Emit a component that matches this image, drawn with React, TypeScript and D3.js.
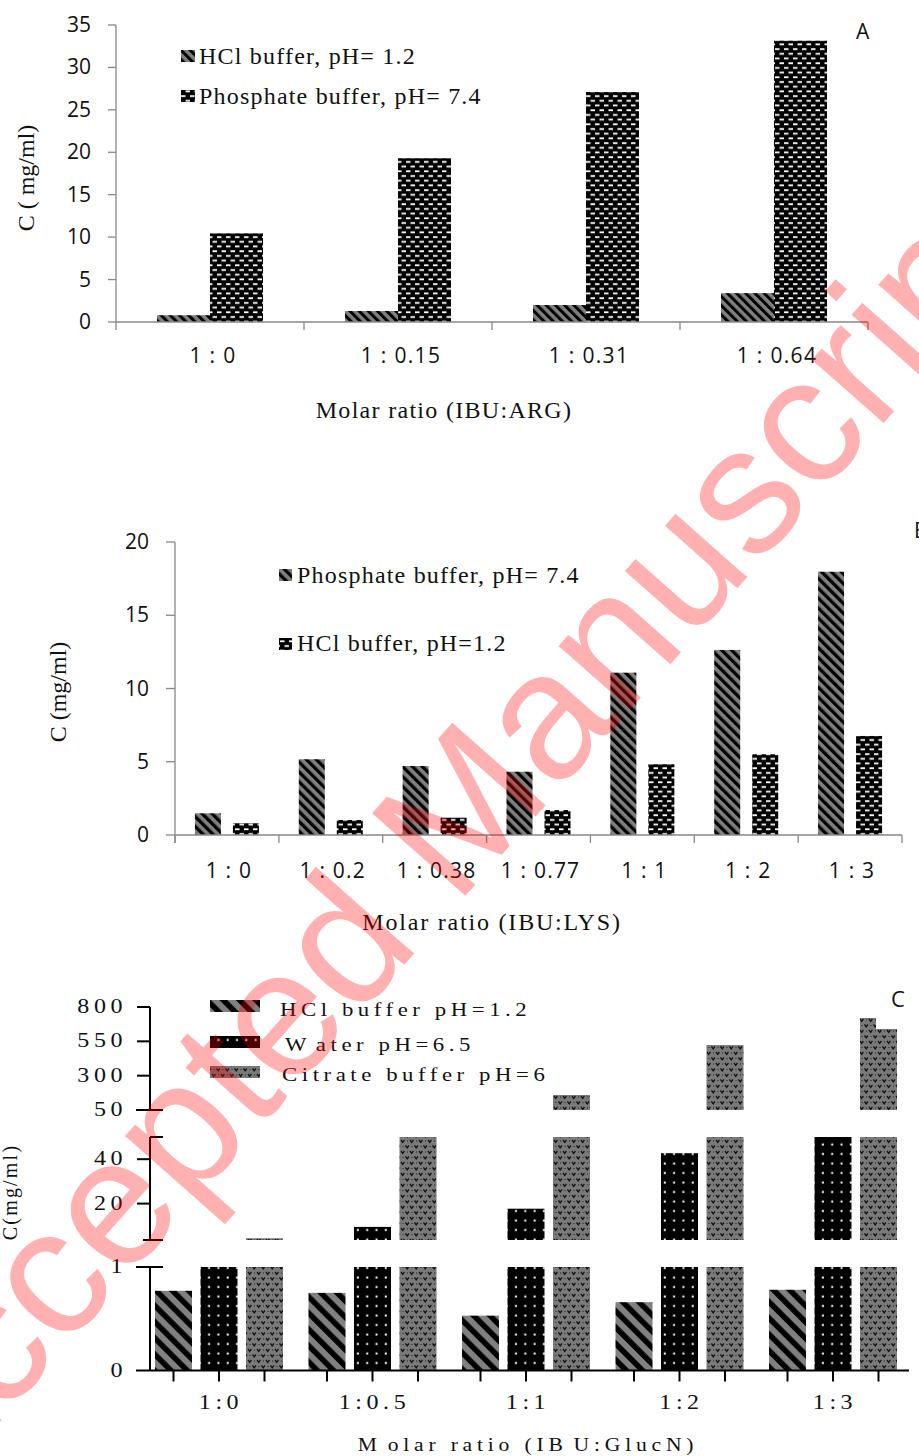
import React from 'react';
import * as d3 from 'd3';

// ---------- Panel A data ----------
const catsA = ['1 : 0', '1 : 0.15', '1 : 0.31', '1 : 0.64'];
const hclA = [0.8, 1.3, 2.0, 3.4];
const phosA = [10.45, 19.3, 27.1, 33.15];
const ticksA = [0, 5, 10, 15, 20, 25, 30, 35];

// ---------- Panel B data ----------
const catsB = ['1 : 0', '1 : 0.2', '1 : 0.38', '1 : 0.77', '1 : 1', '1 : 2', '1 : 3'];
const phosB = [1.48, 5.17, 4.71, 4.32, 11.08, 12.63, 17.97];
const hclB = [0.8, 1.02, 1.18, 1.7, 4.83, 5.51, 6.76];
const ticksB = [0, 5, 10, 15, 20];

// ---------- Panel C data ----------
const catsC = ['1:0', '1:0.5', '1:1', '1:2', '1:3'];
const seriesC = ['hcl', 'water', 'citrate'];
const hclC = [0.77, 0.75, 0.53, 0.66, 0.78];
const waterC = [2.5, 9.5, 17.7, 42.7, 50];
const citrateC = [4.4, 50, 159, 523, 640];
const citrateStepC = [null, null, null, null, 720];
const ticksCBottom = [0, 1];
const ticksCMid = [20, 40];
const ticksCTop = [50, 300, 550, 800];

const SERIF = '"Liberation Serif", "Times New Roman", serif';
const SANS = '"Open Sans", "Liberation Sans", sans-serif';
const GREY = '#808080';
const AXG = '#888888';

function T(p: any) {
  const { x, y, anchor = 'start', size = 16, family = SERIF, sx = 1, ls = 0, rotate = 0, fill = '#111', children } = p;
  return (
    <text
      transform={`translate(${x},${y}) rotate(${rotate}) scale(${sx},1)`}
      textAnchor={anchor}
      fontFamily={family}
      fontSize={size}
      letterSpacing={ls}
      fill={fill}
    >
      {children}
    </text>
  );
}

export default function App() {
  // Panel A scales
  const xA = d3.scaleBand<string>().domain(catsA).range([116, 868]);
  const yA = d3.scaleLinear().domain([0, 35]).range([322, 25]);
  const bwA = 53;

  // Panel B scales
  const xB = d3.scaleBand<string>().domain(catsB).range([175, 902]);
  const yB = d3.scaleLinear().domain([0, 20]).range([835, 542]);
  const bwB = 26;

  // Panel C scales
  const xC = d3.scaleBand<string>().domain(catsC).range([142.25, 909.75]);
  const xCi = d3.scalePoint<string>().domain(seriesC).range([-45.5, 45.5]);
  const bwC = 37;
  const segs = [
    { lo: 0, hi: 1, s: d3.scaleLinear().domain([0, 1]).range([1370.5, 1267]) },
    { lo: 3.6, hi: 50, s: d3.scaleLinear().domain([3.6, 50]).range([1240, 1137]) },
    { lo: 50, hi: 800, s: d3.scaleLinear().domain([50, 800]).range([1110, 1007]) },
  ];
  const valsC: Record<string, number[]> = { hcl: hclC, water: waterC, citrate: citrateC };
  const fillC: Record<string, string> = { hcl: 'url(#hatchC)', water: 'url(#dotsC)', citrate: 'url(#citC)' };

  const segRects = (cx: number, w: number, v: number, fill: string, key: string) =>
    segs.map((sg, i) => {
      if (v <= sg.lo) return null;
      const top = sg.s(Math.min(v, sg.hi));
      const bot = sg.s(sg.lo);
      return <rect key={key + i} x={cx - w / 2} y={top} width={w} height={bot - top} fill={fill} />;
    });

  const cSeg0 = segs[0].s, cSeg1 = segs[1].s, cSeg2 = segs[2].s;

  return (
    <svg width={919} height={1456} style={{ position: 'absolute', left: 0, top: 0, background: '#fff' }}>
      <defs>
        <pattern id="hatchA" width="6.5" height="6.5" patternUnits="userSpaceOnUse" patternTransform="rotate(-45)">
          <rect width="6.5" height="6.5" fill={GREY} />
          <rect width="3" height="6.5" fill="#000" />
        </pattern>
        <pattern id="hatchB" width="7" height="7" patternUnits="userSpaceOnUse" patternTransform="rotate(-45)">
          <rect width="7" height="7" fill={GREY} />
          <rect width="3.3" height="7" fill="#000" />
        </pattern>
        <pattern id="hatchC" width="11.5" height="11.5" patternUnits="userSpaceOnUse" patternTransform="rotate(-45)">
          <rect width="11.5" height="11.5" fill={GREY} />
          <rect width="5.5" height="11.5" fill="#000" />
        </pattern>
        <pattern id="dash" width="9" height="9.4" patternUnits="userSpaceOnUse">
          <rect width="9" height="9.4" fill="#000" />
          <rect x="1" y="1.2" width="4.5" height="1.8" fill="#fff" />
          <rect x="5.5" y="5.9" width="4.5" height="1.8" fill="#fff" />
          <rect x="-3.5" y="5.9" width="4.5" height="1.8" fill="#fff" />
        </pattern>
        <pattern id="dotsC" width="9.3" height="9.5" patternUnits="userSpaceOnUse">
          <rect width="9.3" height="9.5" fill="#000" />
          <rect x="3.5" y="3.5" width="2" height="2" fill="#fff" />
        </pattern>
        <pattern id="citC" width="9" height="11" patternUnits="userSpaceOnUse">
          <rect width="9" height="11" fill="#7a7a7a" />
          <path d="M0.5,1.5 L2.2,3.8 L3.9,1.5" stroke="#111" strokeWidth="1.3" fill="none" />
          <path d="M5,7 L6.7,9.3 L8.4,7" stroke="#111" strokeWidth="1.3" fill="none" />
          <rect x="6.5" y="2" width="1" height="1" fill="#222" />
          <rect x="2" y="7.5" width="1" height="1" fill="#222" />
        </pattern>
      </defs>

      {/* ================= Panel A ================= */}
      <g>
        {catsA.map((c, i) => {
          const cx = xA(c)! + xA.bandwidth() / 2;
          return (
            <g key={c}>
              <rect x={cx - bwA} y={yA(hclA[i])} width={bwA} height={yA(0) - yA(hclA[i])} fill="url(#hatchA)" />
              <rect x={cx} y={yA(phosA[i])} width={bwA} height={yA(0) - yA(phosA[i])} fill="url(#dash)" />
            </g>
          );
        })}
        <line x1={116} x2={116} y1={yA(35)} y2={yA(0)} stroke={AXG} strokeWidth={1.3} />
        <line x1={116} x2={868} y1={yA(0)} y2={yA(0)} stroke={AXG} strokeWidth={1.3} />
        {ticksA.map((t) => (
          <g key={t}>
            <line x1={108} x2={116} y1={yA(t)} y2={yA(t)} stroke={AXG} strokeWidth={1.3} />
            <T x={91} y={yA(t) + 7} anchor="end" size={21} family={SANS}>{t}</T>
          </g>
        ))}
        {xA.domain().map((c) => (
          <line key={c} x1={xA(c)!} x2={xA(c)!} y1={yA(0)} y2={yA(0) + 8} stroke={AXG} strokeWidth={1.3} />
        ))}
        <line x1={868} x2={868} y1={yA(0)} y2={yA(0) + 8} stroke={AXG} strokeWidth={1.3} />
        {catsA.map((c) => (
          <T key={c} x={xA(c)! + xA.bandwidth() / 2 + 3} y={363} anchor="middle" size={21} family={SANS} ls={1.3}>{c}</T>
        ))}
        <T x={444} y={418} anchor="middle" size={24} ls={1.3}>Molar ratio (IBU:ARG)</T>
        <T x={34} y={178} anchor="middle" size={24} rotate={-90}>C ( mg/ml)</T>
        <rect x={181} y={50} width={14} height={12} fill="url(#hatchA)" />
        <T x={199} y={64} size={24} ls={1.2}>HCl buffer, pH= 1.2</T>
        <rect x={181} y={90} width={14} height={12} fill="url(#dash)" />
        <T x={199} y={104} size={24} ls={1.2}>Phosphate buffer, pH= 7.4</T>
        <T x={856} y={39} size={21} family={SANS}>A</T>
      </g>

      {/* ================= Panel B ================= */}
      <g>
        {catsB.map((c, i) => {
          const cx = xB(c)! + xB.bandwidth() / 2;
          return (
            <g key={c}>
              <rect x={cx - 32} y={yB(phosB[i])} width={bwB} height={yB(0) - yB(phosB[i])} fill="url(#hatchB)" />
              <rect x={cx + 6} y={yB(hclB[i])} width={bwB} height={yB(0) - yB(hclB[i])} fill="url(#dash)" />
            </g>
          );
        })}
        <line x1={175} x2={175} y1={yB(20)} y2={yB(0) + 8} stroke={AXG} strokeWidth={1.3} />
        <line x1={175} x2={902} y1={yB(0)} y2={yB(0)} stroke={AXG} strokeWidth={1.3} />
        {ticksB.map((t) => (
          <g key={t}>
            <line x1={166} x2={175} y1={yB(t)} y2={yB(t)} stroke={AXG} strokeWidth={1.3} />
            <T x={149} y={yB(t) + 7} anchor="end" size={21} family={SANS}>{t}</T>
          </g>
        ))}
        {xB.domain().map((c) => (
          <line key={c} x1={xB(c)!} x2={xB(c)!} y1={yB(0)} y2={yB(0) + 8} stroke={AXG} strokeWidth={1.3} />
        ))}
        <line x1={902} x2={902} y1={yB(0)} y2={yB(0) + 8} stroke={AXG} strokeWidth={1.3} />
        {catsB.map((c) => (
          <T key={c} x={xB(c)! + xB.bandwidth() / 2 + 2} y={878} anchor="middle" size={21} family={SANS} ls={1.2}>{c}</T>
        ))}
        <T x={492} y={930} anchor="middle" size={24} ls={1.8}>Molar ratio (IBU:LYS)</T>
        <T x={66} y={692} anchor="middle" size={24} rotate={-90}>C (mg/ml)</T>
        <rect x={279} y={569} width={13} height={12} fill="url(#hatchB)" />
        <T x={297} y={583} size={24} ls={1.2}>Phosphate buffer, pH= 7.4</T>
        <rect x={279} y={638} width={13} height={12} fill="url(#dash)" />
        <T x={297} y={651} size={24} ls={1.2}>HCl buffer, pH=1.2</T>
        <T x={914} y={538} size={21} family={SANS}>B</T>
      </g>

      {/* ================= Panel C ================= */}
      <g>
        {catsC.map((c, i) => {
          const gx = xC(c)! + xC.bandwidth() / 2;
          return (
            <g key={c}>
              {seriesC.map((s) => segRects(gx + xCi(s)!, bwC, valsC[s][i], fillC[s], c + s))}
              {citrateStepC[i] != null
                ? segRects(gx + xCi('citrate')! - bwC / 2 + 8, 16, citrateStepC[i] as number, 'url(#citC)', c + 'step')
                : null}
            </g>
          );
        })}
        {/* y axis pieces */}
        <line x1={150} x2={150} y1={cSeg0(1)} y2={cSeg0(0)} stroke="#000" strokeWidth={2} />
        <line x1={150} x2={150} y1={cSeg1(50)} y2={cSeg1(3.6)} stroke="#000" strokeWidth={2} />
        <line x1={150} x2={150} y1={cSeg2(800)} y2={cSeg2(50)} stroke="#000" strokeWidth={2} />
        {/* x axis */}
        <line x1={136} x2={909} y1={cSeg0(0)} y2={cSeg0(0)} stroke="#000" strokeWidth={2} />
        {/* break ticks */}
        <line x1={136} x2={163} y1={cSeg0(1)} y2={cSeg0(1)} stroke="#000" strokeWidth={2} />
        <line x1={143} x2={163} y1={cSeg1(3.6)} y2={cSeg1(3.6)} stroke="#000" strokeWidth={2} />
        <line x1={150} x2={163} y1={cSeg1(50)} y2={cSeg1(50)} stroke="#000" strokeWidth={2} />
        <line x1={136} x2={163} y1={cSeg2(50)} y2={cSeg2(50)} stroke="#000" strokeWidth={2} />
        {ticksCMid.map((t) => (
          <line key={'m' + t} x1={137} x2={150} y1={cSeg1(t)} y2={cSeg1(t)} stroke="#000" strokeWidth={2} />
        ))}
        {ticksCTop.slice(1).map((t) => (
          <line key={'t' + t} x1={137} x2={150} y1={cSeg2(t)} y2={cSeg2(t)} stroke="#000" strokeWidth={2} />
        ))}
        {ticksCBottom.map((t) => (
          <T key={'lb' + t} x={127} y={cSeg0(t) + 6} anchor="end" size={20} sx={1.2} ls={3.8}>{t}</T>
        ))}
        {ticksCMid.map((t) => (
          <T key={'lm' + t} x={127} y={cSeg1(t) + 6} anchor="end" size={20} sx={1.2} ls={3.8}>{t}</T>
        ))}
        {ticksCTop.map((t) => (
          <T key={'lt' + t} x={127} y={cSeg2(t) + 6} anchor="end" size={20} sx={1.2} ls={3.8}>{t}</T>
        ))}
        {/* x ticks at each bar */}
        {catsC.map((c) =>
          seriesC.map((s) => {
            const bx = xC(c)! + xC.bandwidth() / 2 + xCi(s)!;
            return <line key={c + s + 'tk'} x1={bx} x2={bx} y1={cSeg0(0)} y2={cSeg0(0) + 11} stroke="#000" strokeWidth={2} />;
          })
        )}
        {catsC.map((c) => (
          <T key={c + 'lab'} x={xC(c)! + xC.bandwidth() / 2 + 2} y={1409} anchor="middle" size={20} sx={1.2} ls={3.8}>{c}</T>
        ))}
        <T x={528} y={1451} anchor="middle" size={18} sx={1.2} ls={4}>
          <tspan>M</tspan><tspan dx={5}>olar ratio (IB</tspan><tspan dx={5}>U:GlucN)</tspan>
        </T>
        <T x={17} y={1192} anchor="middle" size={20} sx={1} ls={2.2} rotate={-90}>C(mg/ml)</T>
        {/* legend */}
        <rect x={210} y={1000} width={50} height={12} fill="url(#hatchC)" />
        <T x={280} y={1016} size={19} sx={1.2} ls={3.8}>HCl buffer pH=1.2</T>
        <rect x={210} y={1036} width={50} height={12} fill="url(#dotsC)" />
        <T x={285} y={1051} size={19} sx={1.2} ls={3.8}>
          <tspan>W</tspan><tspan dx={4}>ater pH=6.5</tspan>
        </T>
        <rect x={210} y={1066} width={50} height={12} fill="url(#citC)" />
        <T x={282} y={1081} size={19} sx={1.2} ls={3.8}>Citrate buffer pH=6</T>
        <T x={891} y={1007} size={22} family={SANS}>C</T>
      </g>

      {/* ================= Watermark ================= */}
      <text
        transform="translate(482,877) rotate(-48.5)"
        textAnchor="middle"
        fontFamily='"Liberation Sans", Arial, sans-serif'
        fontSize={181}
        fill="#ff0000"
        opacity={0.3}
      >
        Accepted Manuscript
      </text>
    </svg>
  );
}
